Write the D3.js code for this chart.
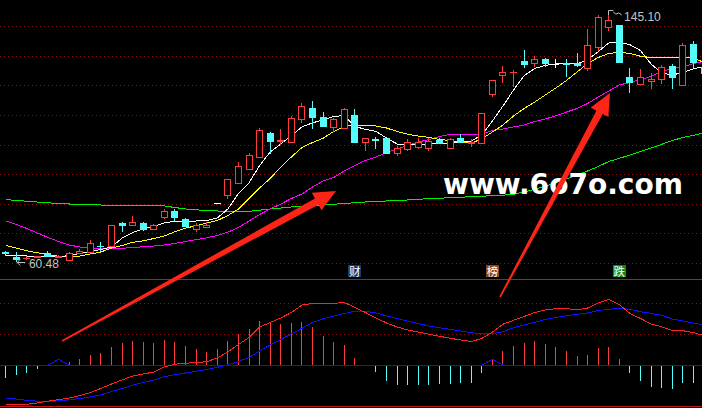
<!DOCTYPE html>
<html>
<head>
<meta charset="utf-8">
<script src="https://cdn.jsdelivr.net/npm/d3@7/dist/d3.min.js"></script>
<style>
html,body{margin:0;padding:0;background:#000;overflow:hidden;}
svg{display:block;}
</style>
</head>
<body>
<svg id="chart" width="702" height="408"></svg>
<script>
// ---------------- DATA ----------------
const days = Array.from({length: 67}, (_, i) => "D" + String(i + 1).padStart(2, "0"));

const open = [63.83,62.12,61.57,62.02,63.22,61.85,61.16,63.28,63.73,65.95,
65.95,73.75,72.86,73.75,71.49,75.59,77.75,74.91,71.49,72.17,
80.41,83.11,87.42,92.00,96.11,104.52,101.68,101.23,109.10,112.86,
109.99,106.36,106.02,110.57,101.23,102.36,102.81,97.47,98.94,99.73,
99.39,102.02,99.39,102.60,101.00,101.10,117.65,124.14,125.10,129.03,
128.45,129.61,128.01,128.25,128.18,126.54,133.82,140.76,141.34,123.66,
121.00,122.30,122.77,127.32,120.83,135.01,126.98];

const close = [63.22,61.33,61.78,62.19,62.53,62.36,63.39,64.17,66.81,65.61,
72.96,72.86,73.99,71.69,72.96,77.75,75.80,72.62,73.06,72.96,
80.41,88.58,93.13,96.89,105.44,101.78,101.85,109.44,113.65,109.99,
106.91,109.10,112.52,101.44,102.60,102.12,97.47,99.18,101.23,101.44,
101.68,100.89,102.36,101.44,101.17,111.15,122.54,125.27,125.27,128.01,
129.61,128.45,128.01,127.90,127.83,134.50,143.97,143.05,128.79,121.95,
123.39,122.77,126.88,123.39,134.50,128.52,124.93];

const high = [64.24,63.73,62.36,62.53,64.07,62.70,63.73,64.75,67.66,66.98,
72.96,73.99,76.04,74.09,73.30,78.53,78.33,75.25,73.54,74.09,
80.41,88.58,94.60,97.47,106.02,104.76,105.68,110.33,114.57,115.36,
111.49,109.65,113.06,112.62,102.60,102.94,102.81,99.80,102.36,102.60,
102.60,102.81,102.81,103.97,102.53,111.15,122.54,127.32,125.95,132.79,
130.74,130.16,129.61,129.61,131.77,139.97,144.76,145.10,141.34,126.54,
126.13,124.83,127.66,128.01,135.29,135.87,127.66];

const low = [62.36,60.48,60.99,61.68,62.36,61.68,61.10,63.22,63.56,63.73,
65.61,70.67,72.79,71.01,71.42,75.01,74.43,72.17,70.67,71.93,
80.41,81.75,87.32,91.94,96.04,97.23,100.31,101.17,107.94,105.68,
106.57,104.86,105.95,101.44,98.36,98.94,97.23,96.65,98.36,98.84,
98.36,100.82,99.18,101.34,99.73,101.00,116.83,121.41,120.04,126.54,
127.08,126.88,126.54,123.66,126.98,125.61,132.45,139.39,128.79,117.92,
121.00,119.36,121.00,119.36,120.83,126.54,124.24];

const ma5 = [62.70,62.53,62.36,62.36,62.19,62.12,62.53,63.22,63.90,64.58,
65.44,68.51,70.40,71.59,72.52,73.64,74.33,74.22,74.33,74.50,
75.35,78.43,83.73,87.42,93.30,97.92,100.65,103.56,106.47,107.90,
108.86,110.06,110.40,106.64,105.68,104.93,102.71,100.65,100.48,100.65,
100.65,100.76,100.89,101.34,101.68,103.73,108.52,113.65,119.12,124.07,
126.47,127.56,128.01,128.01,128.01,129.54,132.21,135.19,135.42,134.60,
132.62,128.01,124.93,124.24,125.10,126.36,127.15];

const ma10 = [65.95,65.10,64.14,63.45,62.87,62.26,62.12,62.36,63.04,63.73,
65.10,65.95,67.04,67.56,68.34,69.20,70.67,71.87,72.72,73.64,
74.50,76.21,78.43,82.02,85.61,88.86,92.79,96.21,99.46,101.17,
102.60,104.93,106.64,107.15,106.81,106.81,106.12,104.93,103.97,103.39,
102.94,102.19,101.85,101.17,101.00,102.36,104.76,107.15,110.23,112.79,
115.01,117.41,119.80,122.36,125.27,128.18,130.23,131.60,132.01,131.60,
130.64,130.23,130.16,130.16,130.43,130.06,128.52];

const ma20 = [74.33,73.13,71.76,70.22,68.69,67.32,66.12,65.44,65.10,64.99,
64.99,64.99,65.27,65.51,65.78,66.12,66.70,67.32,67.93,68.58,
69.37,70.50,72.10,74.33,76.55,78.43,80.14,82.02,83.56,85.95,
88.00,89.20,91.42,93.30,95.01,96.21,97.75,98.94,100.14,101.34,
102.19,103.22,103.90,103.90,103.73,104.07,105.27,105.78,106.47,107.15,
108.35,109.20,110.30,111.59,112.79,114.50,116.72,118.77,120.83,121.68,
122.71,123.73,125.44,126.47,126.98,128.18,128.86];

const ma60 = [81.68,81.34,81.10,80.82,80.55,80.31,80.14,79.97,79.80,79.80,
79.70,79.63,79.56,79.52,79.46,79.46,78.94,78.43,78.16,77.92,
77.75,77.58,77.51,77.64,78.02,78.43,78.77,79.11,79.39,79.63,
79.80,80.07,80.31,80.58,80.82,80.99,81.17,81.40,81.51,81.75,
81.95,82.12,82.29,82.46,82.64,82.81,82.98,83.15,83.49,84.24,
85.17,86.23,87.42,88.69,90.05,91.42,92.96,94.67,95.76,96.89,
98.09,99.29,100.55,101.85,102.88,103.63,104.41];

const dif = [-3.90,-3.90,-3.90,-3.77,-3.59,-3.44,-3.27,-3.04,-2.72,-2.32,
-1.87,-1.47,-1.07,-0.87,-0.67,-0.17,0.11,0.20,0.28,0.36,
0.73,1.33,2.08,2.78,3.83,4.28,4.73,5.28,6.03,6.18,
6.20,6.20,6.28,5.80,5.28,4.73,4.23,3.83,3.53,3.33,
3.11,2.91,2.70,2.53,2.38,2.68,3.33,4.11,4.50,4.88,
5.28,5.53,5.66,5.68,5.53,5.73,6.23,6.58,6.08,5.18,
4.68,4.13,3.85,3.48,3.46,3.26,2.98];

const dea = [-3.29,-3.37,-3.50,-3.59,-3.63,-3.55,-3.45,-3.33,-3.17,-2.95,
-2.62,-2.32,-1.99,-1.72,-1.47,-1.14,-0.93,-0.77,-0.60,-0.42,
-0.20,0.05,0.38,0.78,1.43,2.03,2.58,3.13,3.70,4.28,
4.65,4.93,5.18,5.40,5.40,5.23,4.95,4.67,4.41,4.17,
3.93,3.75,3.60,3.43,3.26,3.15,3.17,3.35,3.76,4.03,
4.29,4.58,4.78,4.95,5.11,5.23,5.48,5.60,5.70,5.60,
5.36,5.19,5.00,4.63,4.43,4.23,4.03];

const macd = [-1.24,-0.97,-0.77,-0.37,0,0,0.33,0.63,1.03,1.23,
1.83,2.23,2.43,2.33,2.23,2.53,2.33,1.93,1.63,1.33,
1.63,2.43,3.13,3.63,4.43,4.36,4.16,4.26,4.36,3.83,
2.96,2.36,2.03,0.76,0,-0.64,-1.54,-1.97,-1.97,-1.97,
-1.97,-1.90,-1.84,-1.74,-1.74,-0.80,0.53,1.43,1.93,2.26,
2.46,2.13,1.83,1.43,0.93,1.03,1.73,1.83,0.66,-0.74,
-1.54,-2.14,-2.27,-2.40,-1.74,-1.74,-1.50];

const crossSignal = [0,0,0,0,0,0.6,0,0,0,0,
0,0,0,0,0,0,0,0,0,0,
0,0,0,0,0,0,0,0,0,0,
0,0,0,0,0,0,0,0,0,0,
0,0,0,0,0,0,0.6,0,0,0,
0,0,0,0,0,0,0,0,0,0,
0,0,0,0,0,0,0];

const macdGrid = [0, 3.1, 6.2];
const markDays = ["D34", "D47", "D59"];
const markTexts = ["财", "榜", "跌"];
const watermark = "www.6o7o.com";

// ---------------- STYLE / LAYOUT ----------------
const W = 702, H = 408;
const RED = "#ff3c3c", CYAN = "#54fcfc";
const markColors = ["#123d73", "#8a4613", "#0f8a14"];
const gridColor = "#8c1616", borderColor = "#c01818";

const svg = d3.select("#chart");
svg.append("rect").attr("width", W).attr("height", H).attr("fill", "#000");

const x = d3.scalePoint().domain(days).range([5.67, 704]);
const yP = d3.scaleLinear().domain([60.48, 145.10]).range([261.5, 14]);
const yM = d3.scaleLinear().domain([-4.14, 8.59]).range([406.7, 279.4]);
const px = d => Math.floor(x(d));

// grid lines
const grid = svg.append("g").attr("shape-rendering", "crispEdges")
  .attr("stroke", gridColor).attr("stroke-dasharray", "1,3");
d3.range(9).map(k => 26.7 + 29.58 * k).forEach(gy => {
  const yy = Math.floor(gy) + 0.5;
  grid.append("line").attr("x1", 0).attr("x2", W).attr("y1", yy).attr("y2", yy);
});
macdGrid.forEach(v => {
  const yy = Math.floor(yM(v)) + 0.5;
  grid.append("line").attr("x1", 0).attr("x2", W).attr("y1", yy).attr("y2", yy);
});

// panel borders
const border = svg.append("g").attr("shape-rendering", "crispEdges").attr("stroke", borderColor);
[279.5, 406.5].forEach(yy => border.append("line").attr("x1", 0).attr("x2", W).attr("y1", yy).attr("y2", yy));

// moving averages
const maG = svg.append("g").attr("fill", "none").attr("stroke-width", 1).attr("shape-rendering", "crispEdges");
const lineP = d3.line().x((d, i) => x(days[i])).y(d => yP(d));
[[ma60, "#00ee00"], [ma20, "#ff00ff"], [ma10, "#ffff00"], [ma5, "#ffffff"]].forEach(([arr, col]) => {
  maG.append("path").attr("d", lineP(arr)).attr("stroke", col);
});

// candles
const cg = svg.append("g").attr("shape-rendering", "crispEdges");
days.forEach((d, i) => {
  const cx = px(d);
  const o = yP(open[i]), c = yP(close[i]), h = yP(high[i]), l = yP(low[i]);
  const up = close[i] > open[i], down = close[i] < open[i];
  const col = up ? RED : (down ? CYAN : "#ffffff");
  const top = Math.round(Math.min(o, c)), bot = Math.round(Math.max(o, c));
  const L = cx - 3;
  const wx = cx + 0.5;
  if (bot - top < 1) {
    if (Math.round(h) < top) cg.append("line").attr("x1", wx).attr("x2", wx).attr("y1", h).attr("y2", top).attr("stroke", col);
    if (Math.round(l) > top) cg.append("line").attr("x1", wx).attr("x2", wx).attr("y1", top + 1).attr("y2", l).attr("stroke", col);
    cg.append("rect").attr("x", L).attr("y", top).attr("width", 7).attr("height", 1).attr("fill", col);
    return;
  }
  if (up) {
    if (Math.round(h) < top) cg.append("line").attr("x1", wx).attr("x2", wx).attr("y1", h).attr("y2", top).attr("stroke", col);
    if (Math.round(l) > bot) cg.append("line").attr("x1", wx).attr("x2", wx).attr("y1", bot).attr("y2", l).attr("stroke", col);
    cg.append("rect").attr("x", L + 0.5).attr("y", top + 0.5).attr("width", 6).attr("height", bot - top)
      .attr("fill", "#000").attr("stroke", col);
  } else {
    cg.append("line").attr("x1", wx).attr("x2", wx).attr("y1", h).attr("y2", l).attr("stroke", col);
    cg.append("rect").attr("x", L).attr("y", top).attr("width", 7).attr("height", bot - top + 1).attr("fill", col);
  }
});

// high / low markers
const iHi = d3.maxIndex(high), iLo = d3.minIndex(low);
const hx = x(days[iHi]), hy = yP(high[iHi]);
const lx = x(days[iLo]), ly = yP(low[iLo]);
const mk = svg.append("g").attr("fill", "none").attr("stroke", "#c0c0c0").attr("stroke-width", 1);
mk.append("path").attr("d",
  `M${Math.floor(hx) + 0.5},${hy - 3.5} V${hy + 1} M${Math.floor(hx) + 0.5},${hy - 3.5} H${hx + 4.5} M${hx + 4.5},${hy - 2} L${hx + 7},${hy} L${hx + 10},${hy - 1} L${hx + 13},${hy + 1}`);
mk.append("path").attr("d",
  `M${lx + 4},${ly - 2.5} L${lx + 1},${ly + 1} L${lx + 4},${ly + 4} M${lx + 1},${ly + 1} H${lx + 9}`);
svg.append("text").attr("x", hx + 15.3).attr("y", hy + 6.7)
  .attr("font-family", "Liberation Sans, Arial, sans-serif").attr("font-size", 12).attr("fill", "#c4c4c4")
  .text(high[iHi].toFixed(2));
svg.append("text").attr("x", lx + 12.7).attr("y", ly + 6.5)
  .attr("font-family", "Liberation Sans, Arial, sans-serif").attr("font-size", 12).attr("fill", "#c4c4c4")
  .text(low[iLo].toFixed(2));

// event markers
markDays.forEach((d, k) => {
  const cx = x(d);
  const g = svg.append("g");
  g.append("rect").attr("x", Math.round(cx - 6.5)).attr("y", 265).attr("width", 13).attr("height", 12)
    .attr("fill", markColors[k]);
  g.append("text").attr("x", cx).attr("y", 275.5).attr("text-anchor", "middle")
    .attr("font-family", "Noto Sans CJK SC, sans-serif").attr("font-size", 11.5).attr("fill", "#ffffff")
    .text(markTexts[k]);
});

// MACD histogram
const mg = svg.append("g").attr("shape-rendering", "crispEdges");
macd.forEach((v, i) => {
  if (v === 0) return;
  const bx = px(days[i]) + 0.5;
  mg.append("line").attr("x1", bx).attr("x2", bx).attr("y1", yM(0)).attr("y2", yM(v))
    .attr("stroke", v > 0 ? RED : CYAN).attr("stroke-width", 1);
});

// zero line + signal bump
const zy = Math.floor(yM(0)) + 0.5;
mg.append("line").attr("x1", 0).attr("x2", W).attr("y1", zy).attr("y2", zy).attr("stroke", "#1010ff");
const lineM = d3.line().x((d, i) => x(days[i])).y(d => yM(d));
const ml = svg.append("g").attr("fill", "none").attr("stroke-width", 1).attr("shape-rendering", "crispEdges");
ml.append("path").attr("d", lineM(crossSignal)).attr("stroke", "#1010ff");
ml.append("path").attr("d", lineM(dea)).attr("stroke", "#1010ff");
ml.append("path").attr("d", lineM(dif)).attr("stroke", "#ff2222");

// watermark
svg.append("text").attr("x", 443).attr("y", 194)
  .attr("font-family", "DejaVu Sans, sans-serif").attr("font-weight", "bold").attr("font-size", 29)
  .attr("fill", "#ffffff").attr("textLength", 240).attr("lengthAdjust", "spacingAndGlyphs")
  .text(watermark);

// annotation arrows
function arrow(tail, tip, wTail, wBody, wHead, headLen) {
  const dx = tip[0] - tail[0], dy = tip[1] - tail[1];
  const len = Math.hypot(dx, dy);
  const ux = dx / len, uy = dy / len, nx = -uy, ny = ux;
  const bx = tip[0] - ux * headLen, by = tip[1] - uy * headLen;
  const pts = [
    [tail[0] + nx * wTail, tail[1] + ny * wTail],
    [bx + nx * wBody, by + ny * wBody],
    [bx + nx * wHead, by + ny * wHead],
    tip,
    [bx - nx * wHead, by - ny * wHead],
    [bx - nx * wBody, by - ny * wBody],
    [tail[0] - nx * wTail, tail[1] - ny * wTail]
  ];
  svg.append("polygon").attr("points", pts.map(p => p.join(",")).join(" ")).attr("fill", "#ff2418");
}
arrow([62, 341], [336, 191], 0.8, 3.6, 10, 22);
arrow([500, 297], [610, 93], 0.8, 3.6, 10, 22);
</script>
</body>
</html>
